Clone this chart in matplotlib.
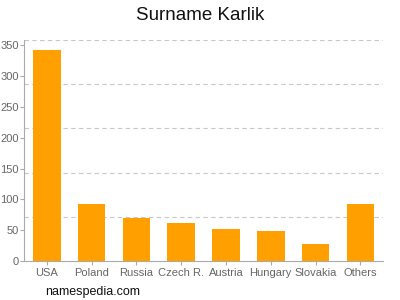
import matplotlib
matplotlib.use("Agg")
import matplotlib.pyplot as plt
import numpy as np

countries = ["USA", "Poland", "Russia", "Czech R.", "Austria", "Hungary", "Slovakia", "Others"]
counts = [342, 93, 70, 62, 52, 49, 28, 92]
ytop = 359

plt.rcParams["font.family"] = ["Liberation Sans", "DejaVu Sans"]

fig = plt.figure(figsize=(4, 3), dpi=100)
ax = fig.add_axes([0.061, 0.13, 0.896, 0.737])

x = np.arange(len(countries))
ax.bar(x, counts, width=0.62, color="#ffa000", zorder=3)

# dashed guide lines split the range in five
for g in np.linspace(0, ytop, 6)[1:]:
    ax.axhline(g, color="#c8c8c8", linestyle=(0, (4, 3)), linewidth=0.8, zorder=1)

ax.set_xlim(-0.5, len(countries) - 0.5)
ax.set_ylim(0, ytop)
ax.set_yticks(range(0, 351, 50))
ax.set_xticks(x)
ax.set_xticklabels(countries)

for s in ["top", "right"]:
    ax.spines[s].set_visible(False)
for s in ["left", "bottom"]:
    ax.spines[s].set_color("#aaaaaa")
    ax.spines[s].set_linewidth(0.8)
ax.tick_params(colors="#aaaaaa", labelcolor="#666666", labelsize=8, length=3, width=0.8, pad=1)
ax.tick_params(axis="x", pad=2)

fig.text(0.5, 0.948, "Surname Karlik", ha="center", va="center", fontsize=13.5, color="#111111")
fig.text(0.112, 0.027, "namespedia.com", ha="left", va="center", fontsize=9, color="#111111")

fig.savefig("out.png", dpi=100)
